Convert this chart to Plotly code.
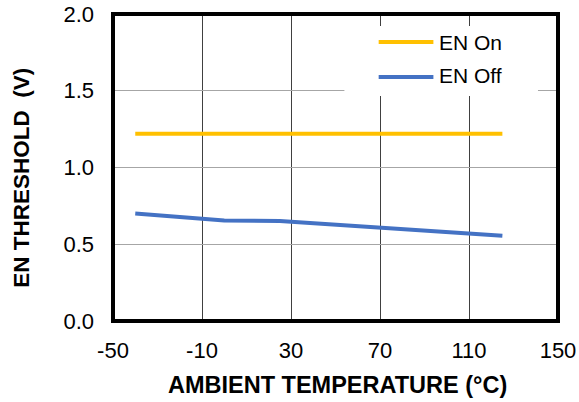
import plotly.graph_objects as go

temps = [-40, 0, 25, 85, 125]
en_on = [1.22, 1.22, 1.22, 1.22, 1.22]
en_off = [0.70, 0.655, 0.652, 0.59, 0.555]
x_ticks = [-50, -10, 30, 70, 110, 150]
y_ticks = [0.0, 0.5, 1.0, 1.5, 2.0]
series_names = ["EN On", "EN Off"]
series_colors = ["#FFC000", "#4472C4"]

FONT = "Liberation Sans, Arial, sans-serif"

fig = go.Figure()
for name, vals, col in zip(series_names, [en_on, en_off], series_colors):
    fig.add_trace(go.Scatter(x=temps, y=vals, mode="lines", name=name,
                             line=dict(color=col, width=4), showlegend=False))

fig.update_layout(
    width=579, height=402,
    margin=dict(l=113, r=21, t=14, b=81),
    plot_bgcolor="white", paper_bgcolor="white",
    font=dict(family=FONT, color="black", size=22),
    xaxis=dict(range=[-50, 150], tickvals=x_ticks, ticktext=[str(v) for v in x_ticks],
               showgrid=True, gridcolor="#404040", gridwidth=1, zeroline=False,
               showline=False, ticks="", ticklabelstandoff=14, automargin=False,
               tickfont=dict(size=22, family=FONT, color="black")),
    yaxis=dict(range=[0, 2], tickvals=y_ticks, ticktext=[f"{v:.1f}" for v in y_ticks],
               showgrid=True, gridcolor="#A6A6A6", gridwidth=1, zeroline=False,
               showline=False, ticks="", ticklabelstandoff=18, automargin=False,
               tickfont=dict(size=22, family=FONT, color="black")),
)

shapes = []
# legend background
shapes.append(dict(type="rect", xref="paper", yref="paper", x0=0.520, x1=0.955,
                   y0=0.733, y1=0.961, fillcolor="white", line=dict(width=0), layer="above"))
# legend samples
leg_y = [0.909, 0.795]
for yy, col in zip(leg_y, series_colors):
    shapes.append(dict(type="line", xref="paper", yref="paper", x0=0.597, x1=0.720,
                       y0=yy, y1=yy, line=dict(color=col, width=4), layer="above"))
# border
shapes.append(dict(type="rect", xref="paper", yref="paper", x0=0, x1=1, y0=0, y1=1,
                   line=dict(color="black", width=4), layer="above"))
fig.update_layout(shapes=shapes)

annotations = []
for yy, name in zip([0.906, 0.800], series_names):
    annotations.append(dict(text=name, xref="paper", yref="paper", x=0.729, y=yy,
                            xanchor="left", yanchor="middle", showarrow=False,
                            font=dict(size=21, family=FONT, color="black")))
annotations.append(dict(text="EN THRESHOLD\u00a0\u00a0(V)", xref="paper", yref="paper",
                        x=-0.205, y=0.466, xanchor="center", yanchor="middle",
                        textangle=-90, showarrow=False,
                        font=dict(size=22.5, family=FONT, color="black", weight="bold")))
annotations.append(dict(text="AMBIENT TEMPERATURE (°C)", xref="paper", yref="paper",
                        x=0.505, y=-0.208, xanchor="center", yanchor="middle",
                        showarrow=False,
                        font=dict(size=23.5, family=FONT, color="black", weight="bold")))
fig.update_layout(annotations=annotations)

fig.write_html("out.html")
